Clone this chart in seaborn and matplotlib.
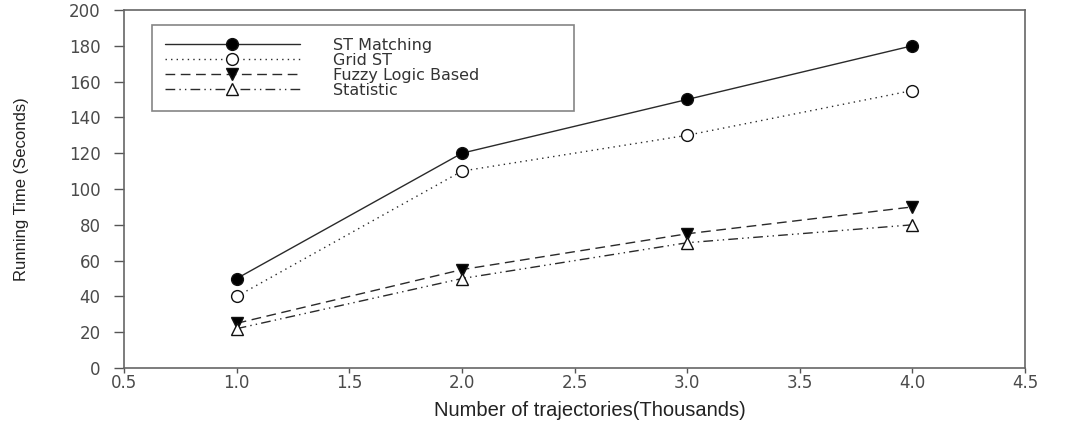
import matplotlib
matplotlib.use("Agg")
import matplotlib.pyplot as plt
import seaborn as sns
import pandas as pd

# Data: running time (seconds) vs number of trajectories (thousands)
trajectories = [1.0, 2.0, 3.0, 4.0]
st_matching = [50, 120, 150, 180]
grid_st = [40, 110, 130, 155]
fuzzy_logic = [25, 55, 75, 90]
statistic = [22, 50, 70, 80]
series_names = ["ST Matching", "Grid ST", "Fuzzy Logic Based", "Statistic"]
x_ticks = [0.5, 1.0, 1.5, 2.0, 2.5, 3.0, 3.5, 4.0, 4.5]
y_ticks = [0, 20, 40, 60, 80, 100, 120, 140, 160, 180, 200]

sns.set_theme(style="ticks")
plt.rcParams["font.family"] = ["Liberation Sans", "DejaVu Sans"]

frames = []
for name, vals in zip(series_names, [st_matching, grid_st, fuzzy_logic, statistic]):
    frames.append(pd.DataFrame({"x": trajectories, "y": vals, "series": name}))
df = pd.concat(frames, ignore_index=True)

styles = {
    "ST Matching": dict(ls="-", marker="o", mfc="black", dashes=None),
    "Grid ST": dict(ls=":", marker="o", mfc="white", dashes=(1, 3)),
    "Fuzzy Logic Based": dict(ls="--", marker="v", mfc="black", dashes=(7, 4)),
    "Statistic": dict(ls="-.", marker="^", mfc="white", dashes=(7, 3, 1, 3, 1, 3)),
}

fig = plt.figure(figsize=(10.7, 4.32), dpi=100)
ax = fig.add_axes([0.116, 0.148, 0.842, 0.829])

for name in series_names:
    st = styles[name]
    sub = df[df["series"] == name]
    sns.lineplot(data=sub, x="x", y="y", ax=ax, color="#2a2a2a", linewidth=1.0,
                 marker=st["marker"], markersize=8.5, markerfacecolor=st["mfc"],
                 markeredgecolor="#111111", markeredgewidth=1.0, label=name,
                 linestyle=st["ls"])
    line = ax.lines[-1]
    if st["dashes"] is not None:
        line.set_dashes(st["dashes"])

ax.set_xlim(0.5, 4.5)
ax.set_ylim(0, 200)
ax.set_xticks(x_ticks)
ax.set_xticklabels([f"{v:.1f}" for v in x_ticks])
ax.set_yticks(y_ticks)
ax.tick_params(axis="both", direction="out", width=1.0, color="#555555",
               labelsize=12, labelcolor="#4a4a4a")
ax.tick_params(axis="x", length=3.5, pad=1)
ax.tick_params(axis="y", length=7, pad=10)
for lab in ax.get_xticklabels() + ax.get_yticklabels():
    lab.set_family(["DejaVu Sans"])
for side in ["left", "bottom", "top", "right"]:
    ax.spines[side].set_color("#666666")
    ax.spines[side].set_linewidth(1.2)
    ax.spines[side].set_visible(True)

ax.set_xlabel("Number of trajectories(Thousands)", fontsize=14.5, color="#222222")
ax.xaxis.set_label_coords(0.517, -0.092)
ax.set_ylabel("Running Time (Seconds)", fontsize=12, color="#222222",
              family=["Liberation Sans Narrow", "Liberation Sans", "DejaVu Sans"])
ax.yaxis.set_label_coords(-0.106, 0.5)

leg = ax.legend(loc="upper left", bbox_to_anchor=(0.031, 0.715, 0.468, 0.243), mode="expand",
                frameon=True, fancybox=False, edgecolor="#666666",
                prop={"family": "DejaVu Sans", "size": 11.5}, handlelength=8.45, handletextpad=2.06,
                borderpad=0.8, labelspacing=0.0, borderaxespad=0)
leg.get_frame().set_linewidth(1.2)
for t in leg.get_texts():
    t.set_color("#333333")

fig.savefig("out.png", dpi=100)
